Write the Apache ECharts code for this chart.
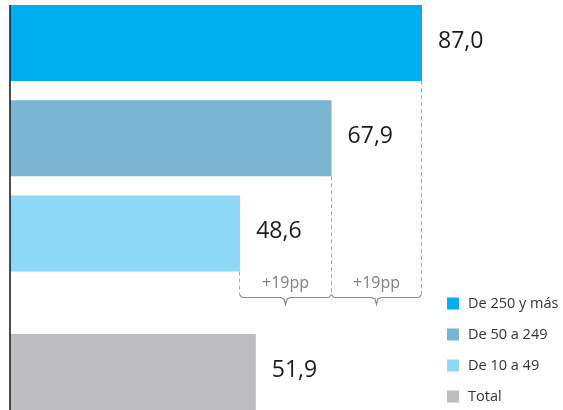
<!DOCTYPE html>
<html>
<head>
<meta charset="utf-8">
<script src="https://cdn.jsdelivr.net/npm/echarts@6/dist/echarts.min.js"></script>
<style>html,body{margin:0;padding:0;background:#fff}#c{width:563px;height:410px}</style>
</head>
<body>
<div id="c"></div>
<script>
const categories = ['De 250 y más', 'De 50 a 249', 'De 10 a 49'];
const values = [87.0, 67.9, 48.6];
const totalName = 'Total';
const totalValue = 51.9;
const diffLabels = ['+19pp', '+19pp'];
const colors = ['#00AEEF', '#7AB5D2', '#8ED8F8', '#BDBDBF'];

const FONT = 'Open Sans';
const fmt = v => v.toFixed(1).replace('.', ',');
const chart = echarts.init(document.getElementById('c'), null, {renderer: 'canvas'});

const BAR_W = 76;
const label = {
  show: true, position: 'right', distance: 16,
  formatter: p => fmt(p.value), color: '#1a1a1a', fontSize: 23, fontFamily: FONT, offset: [0, -2]
};

const series = categories.map((name, i) => ({
  name, type: 'bar', xAxisIndex: 0, yAxisIndex: 0,
  barWidth: BAR_W, barGap: '-100%',
  itemStyle: {color: colors[i]},
  label,
  data: categories.map((c, j) => j === i ? values[i] : '-')
}));
series.push({
  name: totalName, type: 'bar', xAxisIndex: 1, yAxisIndex: 1,
  barWidth: BAR_W, itemStyle: {color: colors[3]}, label,
  data: [totalValue]
});

const xAxisBase = {
  type: 'value', min: 0, max: 100,
  axisLine: {show: false}, axisTick: {show: false},
  axisLabel: {show: false}, splitLine: {show: false}
};
const yAxisBase = {
  type: 'category', inverse: true,
  axisLine: {show: false}, axisTick: {show: false}, axisLabel: {show: false}
};

chart.setOption({
  animation: false,
  textStyle: {fontFamily: FONT},
  grid: [
    {left: 10, width: 473.6, top: -4.6, height: 285.75, outerBoundsMode: 'none', containLabel: false},
    {left: 10, width: 473.6, top: 329, height: 86, outerBoundsMode: 'none', containLabel: false}
  ],
  xAxis: [Object.assign({gridIndex: 0}, xAxisBase), Object.assign({gridIndex: 1}, xAxisBase)],
  yAxis: [
    Object.assign({gridIndex: 0, data: categories}, yAxisBase),
    Object.assign({gridIndex: 1, data: [totalName]}, yAxisBase)
  ],
  legend: {
    orient: 'vertical', left: 447, top: 296, padding: 0,
    itemWidth: 12, itemHeight: 12, itemGap: 16,
    icon: 'rect',
    data: categories.concat([totalName]),
    textStyle: {color: '#333', fontSize: 14.5, fontFamily: FONT, padding: [0, 0, 0, 4]},
    selectedMode: false
  },
  series
});

// annotations derived from the chart's own scales
const px = (v, i) => chart.convertToPixel({gridIndex: 0}, [v, i]);
const ends = values.map((v, i) => px(v, i));
const braceY = 297.5;
const dashStyle = {stroke: '#AAAAAA', lineWidth: 1, lineDash: [4, 3]};
const graphics = [];
const topPt = chart.convertToPixel({gridIndex: 0}, [0, 0]);
const botPt = chart.convertToPixel({gridIndex: 1}, [0, 0]);
graphics.push({type: 'line', shape: {x1: 10, y1: topPt[1] - BAR_W / 2, x2: 10, y2: botPt[1] + BAR_W / 2},
  style: {stroke: '#222', lineWidth: 1.6}, z: 100});
ends.forEach((p, i) => {
  const x = Math.round(p[0]) - 0.5;
  graphics.push({type: 'line', shape: {x1: x, y1: p[1] + BAR_W / 2, x2: x, y2: braceY - 3}, style: dashStyle});
});
for (let k = 0; k < diffLabels.length; k++) {
  const x2 = Math.round(ends[k][0]) - 0.5;
  const x1 = Math.round(ends[k + 1][0]) - 0.5;
  const m = (x1 + x2) / 2;
  const y = braceY;
  graphics.push({
    type: 'polyline',
    shape: {points: [[x1, y - 3], [x1 + 2, y - 0.5], [x1 + 4, y], [m - 5, y], [m - 1.5, y + 1.5], [m, y + 7],
      [m + 1.5, y + 1.5], [m + 5, y], [x2 - 4, y], [x2 - 2, y - 0.5], [x2, y - 3]]},
    style: {stroke: '#8A8A8A', lineWidth: 1.2, fill: null}
  });
  graphics.push({
    type: 'text', x: m, y: 283,
    style: {text: diffLabels[k], fill: '#808080', fontSize: 16, fontFamily: FONT, align: 'center', verticalAlign: 'middle'}
  });
}
chart.setOption({graphic: graphics});
</script>
</body>
</html>
